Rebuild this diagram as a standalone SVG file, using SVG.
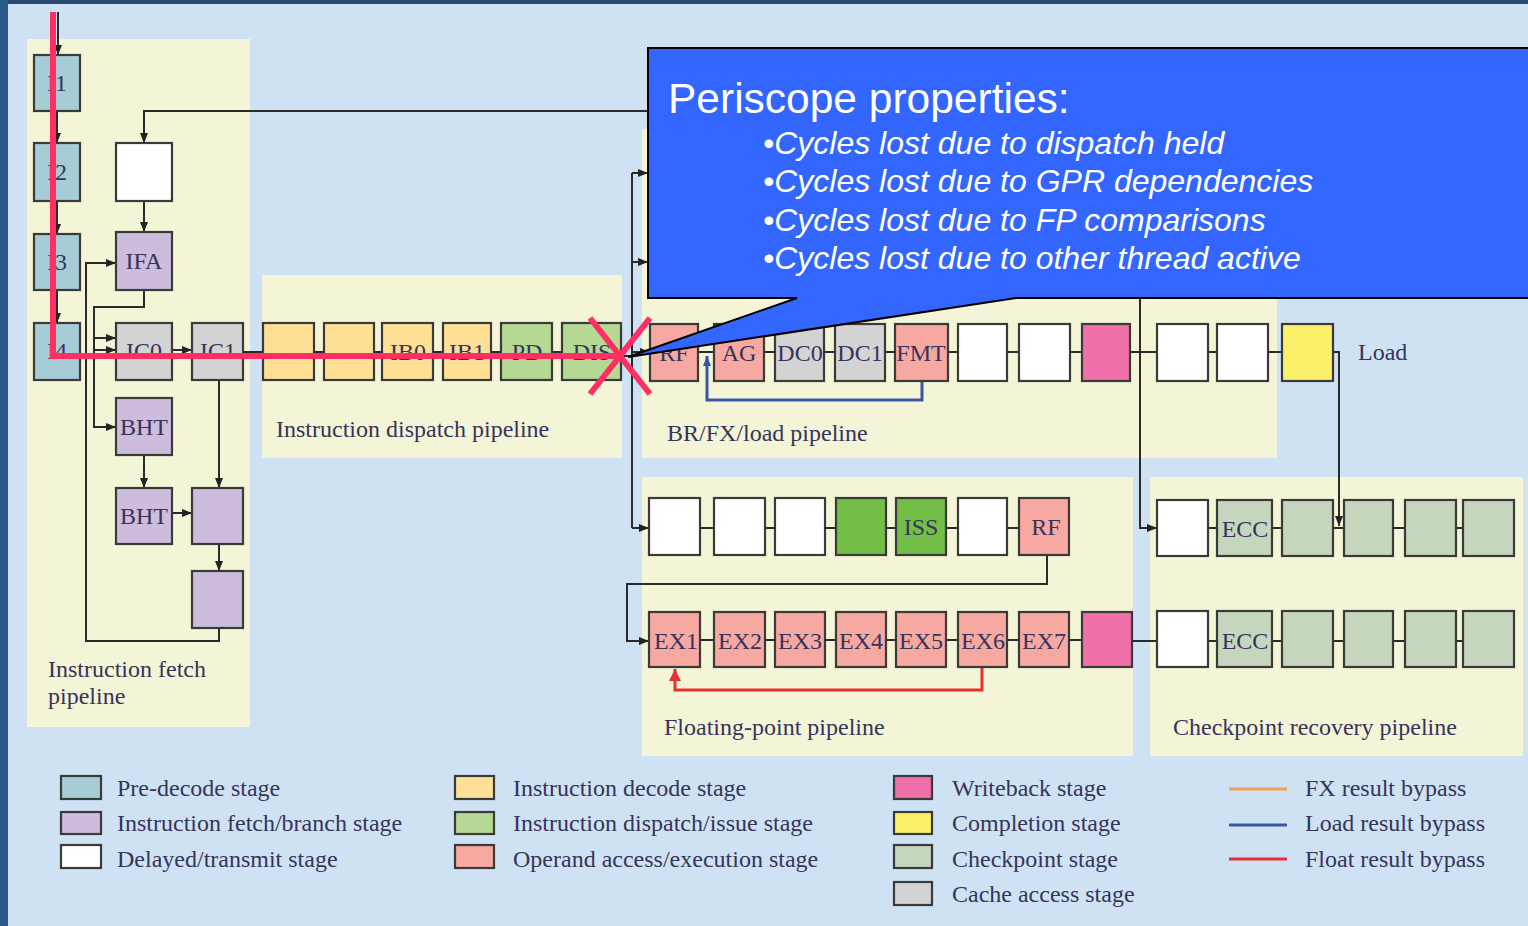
<svg xmlns="http://www.w3.org/2000/svg" width="1528" height="926" viewBox="0 0 1528 926">
<defs>
<marker id="arr" viewBox="0 0 10 10" refX="10" refY="5" markerWidth="10" markerHeight="10" markerUnits="userSpaceOnUse" orient="auto"><path d="M0,1 L10,5 L0,9 z" fill="#222"/></marker>
<marker id="arrB" viewBox="0 0 10 10" refX="10" refY="5" markerWidth="10" markerHeight="10" markerUnits="userSpaceOnUse" orient="auto"><path d="M0,1 L10,5 L0,9 z" fill="#3b56a8"/></marker>
<marker id="arrR" viewBox="0 0 10 10" refX="10" refY="5" markerWidth="12" markerHeight="12" markerUnits="userSpaceOnUse" orient="auto"><path d="M0,0 L10,5 L0,10 z" fill="#e8302e"/></marker>
</defs>
<style>
.panel{fill:#f4f4d6}
.n{stroke:#3a3a3a;stroke-width:2.2}
.pd{fill:#a6cdd6}.pu{fill:#cdbcdc}.wh{fill:#ffffff}.dc{fill:#fde096}.ds{fill:#b5d894}.op{fill:#f7a8a0}
.wb{fill:#ef6fa8}.cp{fill:#fbf06a}.ck{fill:#c6d5bd}.ca{fill:#d3d3d3}.gr{fill:#72be46}
.t{font-family:"Liberation Serif",serif;font-size:24px;fill:#36345a;text-anchor:middle}
.lb{font-family:"Liberation Serif",serif;font-size:24px;fill:#36345a}
.c{fill:none;stroke:#2a2a2a;stroke-width:2}
.ca2{fill:none;stroke:#2a2a2a;stroke-width:2;marker-end:url(#arr)}
.ct{font-family:"Liberation Sans",Arial,sans-serif;fill:#ffffff}
.pink{fill:none;stroke:#ff2e63;stroke-width:6}
</style>
<rect x="0" y="0" width="1528" height="926" fill="#cfe2f3"/>
<rect x="0" y="0" width="1528" height="4" fill="#27496f"/>
<rect x="0" y="0" width="8" height="926" fill="#2c5a8c"/>

<g id="panels">
<rect class="panel" x="27" y="39" width="223" height="688"/>
<rect class="panel" x="262" y="275" width="360" height="183"/>
<rect class="panel" x="642" y="129" width="635" height="329"/>
<rect class="panel" x="642" y="477" width="491" height="279"/>
<rect class="panel" x="1150" y="477" width="373" height="279"/>
<text class="lb" x="48" y="677">Instruction fetch</text>
<text class="lb" x="48" y="704">pipeline</text>
<text class="lb" x="276" y="437">Instruction dispatch pipeline</text>
<text class="lb" x="667" y="441">BR/FX/load pipeline</text>
<text class="lb" x="664" y="735">Floating-point pipeline</text>
<text class="lb" x="1173" y="735">Checkpoint recovery pipeline</text>
<text class="lb" x="1358" y="360">Load</text>
</g>

<g id="connectors">
<path class="ca2" d="M58,12 V55"/>
<path class="ca2" d="M57,111 V143"/>
<path class="ca2" d="M57,201 V234"/>
<path class="ca2" d="M57,290 V323"/>
<path class="ca2" d="M648,111 H144 V143"/>
<path class="ca2" d="M144,201 V232"/>
<path class="ca2" d="M219,628 V641 H86 V263 H116"/>
<path class="ca2" d="M144,290 V307 H94 V427 H116"/>
<path class="ca2" d="M94,338 H116"/>
<path class="ca2" d="M94,350 H116"/>
<path class="ca2" d="M172,350 H192"/>
<path class="ca2" d="M219,380 V488"/>
<path class="ca2" d="M144,455 V488"/>
<path class="ca2" d="M172,513 H192"/>
<path class="ca2" d="M219,544 V571"/>
<path class="c" d="M243,352 H263 M314,352 H324 M374,352 H382 M433,352 H443 M491,352 H501 M552,352 H562 M621,356 H632"/>
<path class="c" d="M632,173 V528"/>
<path class="ca2" d="M632,173 H648"/>
<path class="ca2" d="M632,262 H648"/>
<path class="ca2" d="M632,352 H650"/>
<path class="ca2" d="M632,528 H649"/>
<path class="c" d="M698,352 H714 M764,352 H775 M824,352 H835 M885,352 H895 M948,352 H958 M1007,352 H1019 M1070,352 H1082 M1130,352 H1157 M1208,352 H1217 M1268,352 H1282"/>
<path class="ca2" d="M1333,352 H1339 V526"/>
<path class="ca2" d="M1140,298 V528 H1157"/>
<path fill="none" stroke="#3b56a8" stroke-width="3" marker-end="url(#arrB)" d="M922,381 V400 H707 V356"/>
<path class="c" d="M700,528 H714 M765,528 H775 M825,528 H836 M886,528 H896 M946,528 H958 M1007,528 H1019"/>
<path class="ca2" d="M1047,555 V584 H627 V641 H649"/>
<path class="c" d="M700,640 H714 M765,640 H775 M825,640 H836 M886,640 H896 M946,640 H958 M1007,640 H1019 M1069,640 H1082 M1132,641 H1157"/>
<path fill="none" stroke="#e8302e" stroke-width="3" marker-end="url(#arrR)" d="M982,667 V690 H675 V669"/>
<path class="c" d="M1208,528 H1217 M1272,528 H1282 M1333,528 H1344 M1393,528 H1405 M1456,528 H1463"/>
<path class="c" d="M1208,641 H1217 M1272,641 H1282 M1333,641 H1344 M1393,641 H1405 M1456,641 H1463"/>
</g>

<g id="fetch-nodes">
<g id="I1"><rect class="n pd" x="34" y="55" width="46" height="56"/><text class="t" x="57" y="91">I1</text></g>
<g id="I2"><rect class="n pd" x="34" y="143" width="46" height="58"/><text class="t" x="57" y="180">I2</text></g>
<g id="I3"><rect class="n pd" x="34" y="234" width="46" height="56"/><text class="t" x="57" y="270">I3</text></g>
<g id="I4"><rect class="n pd" x="34" y="323" width="46" height="57"/><text class="t" x="57" y="359">I4</text></g>
<g id="fdelay"><rect class="n wh" x="116" y="143" width="56" height="58"/></g>
<g id="IFA"><rect class="n pu" x="116" y="232" width="56" height="58"/><text class="t" x="144" y="269">IFA</text></g>
<g id="IC0"><rect class="n ca" x="116" y="323" width="56" height="57"/><text class="t" x="144" y="359">IC0</text></g>
<g id="IC1"><rect class="n ca" x="192" y="323" width="51" height="57"/><text class="t" x="218" y="359">IC1</text></g>
<g id="BHT1"><rect class="n pu" x="116" y="398" width="56" height="57"/><text class="t" x="144" y="435">BHT</text></g>
<g id="BHT2"><rect class="n pu" x="116" y="488" width="56" height="56"/><text class="t" x="144" y="524">BHT</text></g>
<g id="FB1"><rect class="n pu" x="192" y="488" width="51" height="56"/></g>
<g id="FB2"><rect class="n pu" x="192" y="571" width="51" height="57"/></g>
</g>

<g id="dispatch-nodes">
<g id="D1"><rect class="n dc" x="263" y="323" width="51" height="57"/></g>
<g id="D2"><rect class="n dc" x="324" y="323" width="50" height="57"/></g>
<g id="IB0"><rect class="n dc" x="382" y="323" width="51" height="57"/><text class="t" x="408" y="360">IB0</text></g>
<g id="IB1"><rect class="n dc" x="443" y="323" width="48" height="57"/><text class="t" x="467" y="360">IB1</text></g>
<g id="PD"><rect class="n ds" x="501" y="323" width="51" height="57"/><text class="t" x="527" y="360">PD</text></g>
<g id="DIS"><rect class="n ds" x="562" y="323" width="59" height="57"/><text class="t" x="592" y="360">DIS</text></g>
</g>

<g id="brfx-nodes">
<g id="BRF"><rect class="n op" x="650" y="324" width="48" height="57"/><text class="t" x="674" y="361">RF</text></g>
<g id="AG"><rect class="n op" x="714" y="324" width="50" height="57"/><text class="t" x="739" y="361">AG</text></g>
<g id="DC0"><rect class="n ca" x="775" y="324" width="49" height="57"/><text class="t" x="800" y="361">DC0</text></g>
<g id="DC1"><rect class="n ca" x="835" y="324" width="50" height="57"/><text class="t" x="860" y="361">DC1</text></g>
<g id="FMT"><rect class="n op" x="895" y="324" width="53" height="57"/><text class="t" x="921" y="361">FMT</text></g>
<g id="BW1"><rect class="n wh" x="958" y="324" width="49" height="57"/></g>
<g id="BW2"><rect class="n wh" x="1019" y="324" width="51" height="57"/></g>
<g id="BWB"><rect class="n wb" x="1082" y="324" width="48" height="57"/></g>
<g id="BW3"><rect class="n wh" x="1157" y="324" width="51" height="57"/></g>
<g id="BW4"><rect class="n wh" x="1217" y="324" width="51" height="57"/></g>
<g id="BCP"><rect class="n cp" x="1282" y="324" width="51" height="57"/></g>
</g>

<g id="fp-nodes">
<g id="FW1"><rect class="n wh" x="649" y="498" width="51" height="57"/></g>
<g id="FW2"><rect class="n wh" x="714" y="498" width="51" height="57"/></g>
<g id="FW3"><rect class="n wh" x="775" y="498" width="50" height="57"/></g>
<g id="FG"><rect class="n gr" x="836" y="498" width="50" height="57"/></g>
<g id="ISS"><rect class="n gr" x="896" y="498" width="50" height="57"/><text class="t" x="921" y="535">ISS</text></g>
<g id="FW4"><rect class="n wh" x="958" y="498" width="49" height="57"/></g>
<g id="FRF"><rect class="n op" x="1019" y="498" width="50" height="57"/><text class="t" x="1046" y="535">RF</text></g>
<g id="EX1"><rect class="n op" x="649" y="612" width="51" height="55"/><text class="t" x="676" y="649">EX1</text></g>
<g id="EX2"><rect class="n op" x="714" y="612" width="51" height="55"/><text class="t" x="740" y="649">EX2</text></g>
<g id="EX3"><rect class="n op" x="775" y="612" width="50" height="55"/><text class="t" x="800" y="649">EX3</text></g>
<g id="EX4"><rect class="n op" x="836" y="612" width="50" height="55"/><text class="t" x="861" y="649">EX4</text></g>
<g id="EX5"><rect class="n op" x="896" y="612" width="50" height="55"/><text class="t" x="921" y="649">EX5</text></g>
<g id="EX6"><rect class="n op" x="958" y="612" width="49" height="55"/><text class="t" x="983" y="649">EX6</text></g>
<g id="EX7"><rect class="n op" x="1019" y="612" width="50" height="55"/><text class="t" x="1044" y="649">EX7</text></g>
<g id="FWB"><rect class="n wb" x="1082" y="612" width="50" height="55"/></g>
</g>

<g id="ckpt-nodes">
<g id="CW1"><rect class="n wh" x="1157" y="500" width="51" height="56"/></g>
<g id="ECC1"><rect class="n ck" x="1217" y="500" width="55" height="56"/><text class="t" x="1245" y="537">ECC</text></g>
<g id="C13"><rect class="n ck" x="1282" y="500" width="51" height="56"/></g>
<g id="C14"><rect class="n ck" x="1344" y="500" width="49" height="56"/></g>
<g id="C15"><rect class="n ck" x="1405" y="500" width="51" height="56"/></g>
<g id="C16"><rect class="n ck" x="1463" y="500" width="51" height="56"/></g>
<g id="CW2"><rect class="n wh" x="1157" y="611" width="51" height="56"/></g>
<g id="ECC2"><rect class="n ck" x="1217" y="611" width="55" height="56"/><text class="t" x="1245" y="649">ECC</text></g>
<g id="C23"><rect class="n ck" x="1282" y="611" width="51" height="56"/></g>
<g id="C24"><rect class="n ck" x="1344" y="611" width="49" height="56"/></g>
<g id="C25"><rect class="n ck" x="1405" y="611" width="51" height="56"/></g>
<g id="C26"><rect class="n ck" x="1463" y="611" width="51" height="56"/></g>
</g>

<g id="legend">
<rect class="n pd" x="61" y="776" width="40" height="23"/><text class="lb" x="117" y="796">Pre-decode stage</text>
<rect class="n pu" x="61" y="812" width="40" height="22"/><text class="lb" x="117" y="831">Instruction fetch/branch stage</text>
<rect class="n wh" x="61" y="845" width="40" height="23"/><text class="lb" x="117" y="867">Delayed/transmit stage</text>
<rect class="n dc" x="455" y="776" width="39" height="23"/><text class="lb" x="513" y="796">Instruction decode stage</text>
<rect class="n ds" x="455" y="812" width="39" height="22"/><text class="lb" x="513" y="831">Instruction dispatch/issue stage</text>
<rect class="n op" x="455" y="845" width="39" height="23"/><text class="lb" x="513" y="867">Operand access/execution stage</text>
<rect class="n wb" x="894" y="776" width="38" height="23"/><text class="lb" x="952" y="796">Writeback stage</text>
<rect class="n cp" x="894" y="812" width="38" height="22"/><text class="lb" x="952" y="831">Completion stage</text>
<rect class="n ck" x="894" y="845" width="38" height="23"/><text class="lb" x="952" y="867">Checkpoint stage</text>
<rect class="n ca" x="894" y="882" width="38" height="23"/><text class="lb" x="952" y="902">Cache access stage</text>
<line x1="1229" y1="789" x2="1287" y2="789" stroke="#f5a04a" stroke-width="3"/><text class="lb" x="1305" y="796">FX result bypass</text>
<line x1="1229" y1="825" x2="1287" y2="825" stroke="#3a55a8" stroke-width="3"/><text class="lb" x="1305" y="831">Load result bypass</text>
<line x1="1229" y1="859" x2="1287" y2="859" stroke="#e8303a" stroke-width="3"/><text class="lb" x="1305" y="867">Float result bypass</text>
</g>

<g id="callout">
<path d="M648,48 H1540 V298 H1016 L628,357 L797,298 H648 Z" fill="#3366ff" stroke="#000" stroke-width="2"/>
<text class="ct" x="668" y="113" font-size="42.5">Periscope properties:</text>
<g font-size="32" font-style="italic">
<text class="ct" x="763" y="154">•Cycles lost due to dispatch held</text>
<text class="ct" x="763" y="192">•Cycles lost due to GPR dependencies</text>
<text class="ct" x="763" y="231">•Cycles lost due to FP comparisons</text>
<text class="ct" x="763" y="269">•Cycles lost due to other thread active</text>
</g>
</g>

<g id="overlay">
<path class="pink" d="M53,12 V356 H620"/>
<path class="pink" d="M590,318 L650,394 M650,318 L590,394"/>
</g>
</svg>
